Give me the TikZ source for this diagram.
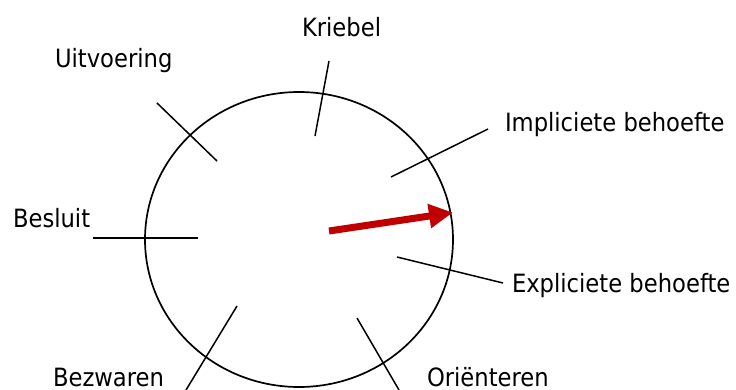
\documentclass[tikz,border=0pt]{standalone}
\usepackage{fontspec}
\setmainfont{DejaVu Sans Condensed}
\usetikzlibrary{arrows.meta}
\definecolor{arrowred}{HTML}{C00000}
\tikzset{
  lbl/.style={anchor=base west, inner sep=0pt, outer sep=0pt, font=\fontsize{25.2}{30}\selectfont},
  tick/.style={draw=black, line width=1.5pt},
}
\begin{document}
\begin{tikzpicture}[x=1pt,y=-1pt]
\useasboundingbox (0,0) rectangle (736,389);
\draw[line width=1.7pt] (299,239.5) ellipse [x radius=154, y radius=147.5];
% labels
\node[lbl] (kriebel) at (302,36) {Kriebel};
\node[lbl] (uitv) at (55,67) {Uitvoering};
\node[lbl] (impl) at (505,131) {Impliciete behoefte};
\node[lbl] (besluit) at (13,227) {Besluit};
\node[lbl] (expl) at (512,292) {Expliciete behoefte};
\node[lbl] (bezw) at (53,386) {Bezwaren};
\node[lbl] (orient) at (427,386) {Oriënteren};
% tick coordinates
\coordinate (k1) at (329,61); \coordinate (k2) at (315,136);
\coordinate (u1) at (157,103); \coordinate (u2) at (217,161);
\coordinate (i1) at (488,129); \coordinate (i2) at (391,177);
\coordinate (b1) at (93,238); \coordinate (b2) at (198,238);
\coordinate (e1) at (503,283); \coordinate (e2) at (397,257);
\coordinate (z1) at (186,390); \coordinate (z2) at (237,306);
\coordinate (o1) at (399,390); \coordinate (o2) at (357,318);
\draw[tick] (k1) -- (k2);
\draw[tick] (u1) -- (u2);
\draw[tick] (i1) -- (i2);
\draw[tick] (b1) -- (b2);
\draw[tick] (e1) -- (e2);
\draw[tick] (z1) -- (z2);
\draw[tick] (o1) -- (o2);
% arrow
\coordinate (a1) at (329,231);
\coordinate (a2) at (453,212.5);
\draw[arrowred, line width=7pt, -{Triangle[length=24pt,width=23pt]}] (a1) -- (a2);
\end{tikzpicture}
\end{document}
